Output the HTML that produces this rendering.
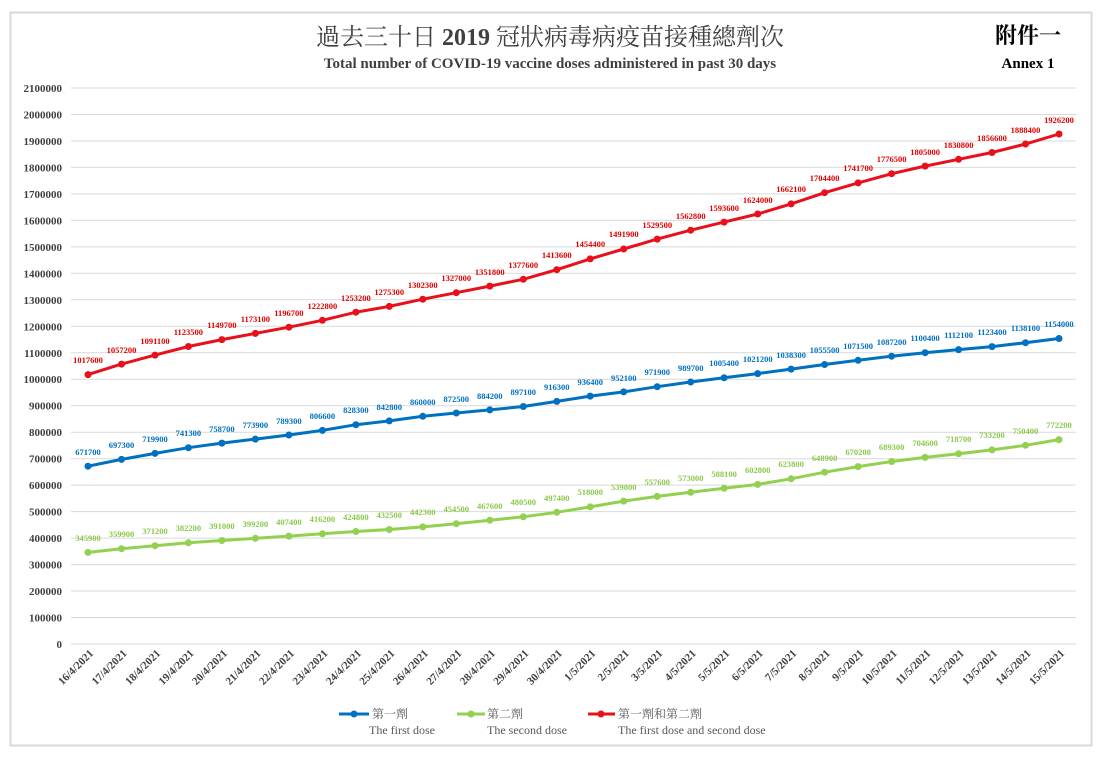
<!DOCTYPE html>
<html><head><meta charset="utf-8"><style>
html,body{margin:0;padding:0;background:#fff;width:1108px;height:758px;overflow:hidden}
svg{display:block}
.yl{font:bold 11px "Liberation Serif",serif;fill:#404040;text-anchor:end}
.xl{font:bold 11px "Liberation Serif",serif;fill:#404040;text-anchor:end}
.r{font:bold 8.5px "Liberation Serif",serif;fill:#e00000;text-anchor:middle}
.b{font:bold 8.5px "Liberation Serif",serif;fill:#0070c0;text-anchor:middle}
.g{font:bold 8.5px "Liberation Serif",serif;fill:#8cc84b;text-anchor:middle}
.lg{font:12px "Liberation Serif","Noto Serif CJK SC",serif;fill:#595959}
</style></head><body>
<svg width="1108" height="758" xmlns="http://www.w3.org/2000/svg">
<rect x="10.5" y="12.5" width="1081" height="733" fill="#fff" stroke="#d9d9d9" stroke-width="2"/>
<text x="550" y="45" text-anchor="middle" style="font:24px 'Liberation Serif','Noto Serif CJK SC',serif;fill:#404040">過去三十日 <tspan style="font-weight:bold">2019</tspan> 冠狀病毒病疫苗接種總劑次</text>
<text x="550" y="68" text-anchor="middle" style="font:bold 15px 'Liberation Serif',serif;fill:#404040">Total number of COVID-19 vaccine doses administered in past 30 days</text>
<text x="1028" y="43" text-anchor="middle" style="font:bold 22px 'Liberation Serif','Noto Serif CJK SC',serif;fill:#000">附件一</text>
<text x="1028" y="68" text-anchor="middle" style="font:bold 15px 'Liberation Serif',serif;fill:#000">Annex 1</text>
<g stroke="#d9d9d9" stroke-width="1">
<line x1="71" x2="1076" y1="88" y2="88"/><line x1="71" x2="1076" y1="114.5" y2="114.5"/><line x1="71" x2="1076" y1="141" y2="141"/><line x1="71" x2="1076" y1="167.4" y2="167.4"/><line x1="71" x2="1076" y1="193.9" y2="193.9"/><line x1="71" x2="1076" y1="220.4" y2="220.4"/><line x1="71" x2="1076" y1="246.9" y2="246.9"/><line x1="71" x2="1076" y1="273.3" y2="273.3"/><line x1="71" x2="1076" y1="299.8" y2="299.8"/><line x1="71" x2="1076" y1="326.3" y2="326.3"/><line x1="71" x2="1076" y1="352.8" y2="352.8"/><line x1="71" x2="1076" y1="379.2" y2="379.2"/><line x1="71" x2="1076" y1="405.7" y2="405.7"/><line x1="71" x2="1076" y1="432.2" y2="432.2"/><line x1="71" x2="1076" y1="458.7" y2="458.7"/><line x1="71" x2="1076" y1="485.1" y2="485.1"/><line x1="71" x2="1076" y1="511.6" y2="511.6"/><line x1="71" x2="1076" y1="538.1" y2="538.1"/><line x1="71" x2="1076" y1="564.6" y2="564.6"/><line x1="71" x2="1076" y1="591" y2="591"/><line x1="71" x2="1076" y1="617.5" y2="617.5"/><line x1="71" x2="1076" y1="644" y2="644"/>
</g>
<g>
<text class="yl" x="62" y="92">2100000</text><text class="yl" x="62" y="118.5">2000000</text><text class="yl" x="62" y="145">1900000</text><text class="yl" x="62" y="171.4">1800000</text><text class="yl" x="62" y="197.9">1700000</text><text class="yl" x="62" y="224.4">1600000</text><text class="yl" x="62" y="250.9">1500000</text><text class="yl" x="62" y="277.3">1400000</text><text class="yl" x="62" y="303.8">1300000</text><text class="yl" x="62" y="330.3">1200000</text><text class="yl" x="62" y="356.8">1100000</text><text class="yl" x="62" y="383.2">1000000</text><text class="yl" x="62" y="409.7">900000</text><text class="yl" x="62" y="436.2">800000</text><text class="yl" x="62" y="462.7">700000</text><text class="yl" x="62" y="489.1">600000</text><text class="yl" x="62" y="515.6">500000</text><text class="yl" x="62" y="542.1">400000</text><text class="yl" x="62" y="568.6">300000</text><text class="yl" x="62" y="595">200000</text><text class="yl" x="62" y="621.5">100000</text><text class="yl" x="62" y="648">0</text>
</g>
<g>
<text class="xl" transform="translate(94,654) rotate(-45)">16/4/2021</text><text class="xl" transform="translate(127.5,654) rotate(-45)">17/4/2021</text><text class="xl" transform="translate(161,654) rotate(-45)">18/4/2021</text><text class="xl" transform="translate(194.4,654) rotate(-45)">19/4/2021</text><text class="xl" transform="translate(227.9,654) rotate(-45)">20/4/2021</text><text class="xl" transform="translate(261.4,654) rotate(-45)">21/4/2021</text><text class="xl" transform="translate(294.9,654) rotate(-45)">22/4/2021</text><text class="xl" transform="translate(328.4,654) rotate(-45)">23/4/2021</text><text class="xl" transform="translate(361.9,654) rotate(-45)">24/4/2021</text><text class="xl" transform="translate(395.3,654) rotate(-45)">25/4/2021</text><text class="xl" transform="translate(428.8,654) rotate(-45)">26/4/2021</text><text class="xl" transform="translate(462.3,654) rotate(-45)">27/4/2021</text><text class="xl" transform="translate(495.8,654) rotate(-45)">28/4/2021</text><text class="xl" transform="translate(529.3,654) rotate(-45)">29/4/2021</text><text class="xl" transform="translate(562.8,654) rotate(-45)">30/4/2021</text><text class="xl" transform="translate(596.2,654) rotate(-45)">1/5/2021</text><text class="xl" transform="translate(629.7,654) rotate(-45)">2/5/2021</text><text class="xl" transform="translate(663.2,654) rotate(-45)">3/5/2021</text><text class="xl" transform="translate(696.7,654) rotate(-45)">4/5/2021</text><text class="xl" transform="translate(730.1,654) rotate(-45)">5/5/2021</text><text class="xl" transform="translate(763.7,654) rotate(-45)">6/5/2021</text><text class="xl" transform="translate(797.1,654) rotate(-45)">7/5/2021</text><text class="xl" transform="translate(830.6,654) rotate(-45)">8/5/2021</text><text class="xl" transform="translate(864.1,654) rotate(-45)">9/5/2021</text><text class="xl" transform="translate(897.6,654) rotate(-45)">10/5/2021</text><text class="xl" transform="translate(931.1,654) rotate(-45)">11/5/2021</text><text class="xl" transform="translate(964.6,654) rotate(-45)">12/5/2021</text><text class="xl" transform="translate(998,654) rotate(-45)">13/5/2021</text><text class="xl" transform="translate(1031.5,654) rotate(-45)">14/5/2021</text><text class="xl" transform="translate(1065,654) rotate(-45)">15/5/2021</text>
</g>
<polyline fill="none" stroke="#92d050" stroke-width="3" points="88,552.4 121.5,548.7 155,545.7 188.4,542.8 221.9,540.5 255.4,538.3 288.9,536.1 322.4,533.8 355.9,531.5 389.3,529.5 422.8,526.9 456.3,523.7 489.8,520.2 523.3,516.8 556.8,512.3 590.2,506.9 623.7,501.1 657.2,496.4 690.7,492.3 724.1,488.3 757.7,484.4 791.1,478.8 824.6,472.2 858.1,466.6 891.6,461.5 925.1,457.4 958.6,453.7 992,449.9 1025.5,445.3 1059,439.6"/>
<polyline fill="none" stroke="#0070c0" stroke-width="3" points="88,466.2 121.5,459.4 155,453.4 188.4,447.7 221.9,443.1 255.4,439.1 288.9,435 322.4,430.4 355.9,424.7 389.3,420.9 422.8,416.3 456.3,413 489.8,409.9 523.3,406.5 556.8,401.4 590.2,396.1 623.7,391.9 657.2,386.7 690.7,382 724.1,377.8 757.7,373.6 791.1,369.1 824.6,364.5 858.1,360.3 891.6,356.2 925.1,352.7 958.6,349.6 992,346.6 1025.5,342.7 1059,338.5"/>
<polyline fill="none" stroke="#e8101b" stroke-width="3" points="88,374.6 121.5,364.1 155,355.1 188.4,346.5 221.9,339.6 255.4,333.4 288.9,327.2 322.4,320.3 355.9,312.2 389.3,306.4 422.8,299.2 456.3,292.7 489.8,286.1 523.3,279.3 556.8,269.7 590.2,258.9 623.7,249 657.2,239.1 690.7,230.2 724.1,222.1 757.7,214 791.1,203.9 824.6,192.7 858.1,182.9 891.6,173.7 925.1,166.1 958.6,159.3 992,152.5 1025.5,144 1059,134"/>
<g fill="#92d050"><circle cx="88" cy="552.4" r="3.5"/><circle cx="121.5" cy="548.7" r="3.5"/><circle cx="155" cy="545.7" r="3.5"/><circle cx="188.4" cy="542.8" r="3.5"/><circle cx="221.9" cy="540.5" r="3.5"/><circle cx="255.4" cy="538.3" r="3.5"/><circle cx="288.9" cy="536.1" r="3.5"/><circle cx="322.4" cy="533.8" r="3.5"/><circle cx="355.9" cy="531.5" r="3.5"/><circle cx="389.3" cy="529.5" r="3.5"/><circle cx="422.8" cy="526.9" r="3.5"/><circle cx="456.3" cy="523.7" r="3.5"/><circle cx="489.8" cy="520.2" r="3.5"/><circle cx="523.3" cy="516.8" r="3.5"/><circle cx="556.8" cy="512.3" r="3.5"/><circle cx="590.2" cy="506.9" r="3.5"/><circle cx="623.7" cy="501.1" r="3.5"/><circle cx="657.2" cy="496.4" r="3.5"/><circle cx="690.7" cy="492.3" r="3.5"/><circle cx="724.1" cy="488.3" r="3.5"/><circle cx="757.7" cy="484.4" r="3.5"/><circle cx="791.1" cy="478.8" r="3.5"/><circle cx="824.6" cy="472.2" r="3.5"/><circle cx="858.1" cy="466.6" r="3.5"/><circle cx="891.6" cy="461.5" r="3.5"/><circle cx="925.1" cy="457.4" r="3.5"/><circle cx="958.6" cy="453.7" r="3.5"/><circle cx="992" cy="449.9" r="3.5"/><circle cx="1025.5" cy="445.3" r="3.5"/><circle cx="1059" cy="439.6" r="3.5"/></g>
<g fill="#0070c0"><circle cx="88" cy="466.2" r="3.5"/><circle cx="121.5" cy="459.4" r="3.5"/><circle cx="155" cy="453.4" r="3.5"/><circle cx="188.4" cy="447.7" r="3.5"/><circle cx="221.9" cy="443.1" r="3.5"/><circle cx="255.4" cy="439.1" r="3.5"/><circle cx="288.9" cy="435" r="3.5"/><circle cx="322.4" cy="430.4" r="3.5"/><circle cx="355.9" cy="424.7" r="3.5"/><circle cx="389.3" cy="420.9" r="3.5"/><circle cx="422.8" cy="416.3" r="3.5"/><circle cx="456.3" cy="413" r="3.5"/><circle cx="489.8" cy="409.9" r="3.5"/><circle cx="523.3" cy="406.5" r="3.5"/><circle cx="556.8" cy="401.4" r="3.5"/><circle cx="590.2" cy="396.1" r="3.5"/><circle cx="623.7" cy="391.9" r="3.5"/><circle cx="657.2" cy="386.7" r="3.5"/><circle cx="690.7" cy="382" r="3.5"/><circle cx="724.1" cy="377.8" r="3.5"/><circle cx="757.7" cy="373.6" r="3.5"/><circle cx="791.1" cy="369.1" r="3.5"/><circle cx="824.6" cy="364.5" r="3.5"/><circle cx="858.1" cy="360.3" r="3.5"/><circle cx="891.6" cy="356.2" r="3.5"/><circle cx="925.1" cy="352.7" r="3.5"/><circle cx="958.6" cy="349.6" r="3.5"/><circle cx="992" cy="346.6" r="3.5"/><circle cx="1025.5" cy="342.7" r="3.5"/><circle cx="1059" cy="338.5" r="3.5"/></g>
<g fill="#e8101b"><circle cx="88" cy="374.6" r="3.5"/><circle cx="121.5" cy="364.1" r="3.5"/><circle cx="155" cy="355.1" r="3.5"/><circle cx="188.4" cy="346.5" r="3.5"/><circle cx="221.9" cy="339.6" r="3.5"/><circle cx="255.4" cy="333.4" r="3.5"/><circle cx="288.9" cy="327.2" r="3.5"/><circle cx="322.4" cy="320.3" r="3.5"/><circle cx="355.9" cy="312.2" r="3.5"/><circle cx="389.3" cy="306.4" r="3.5"/><circle cx="422.8" cy="299.2" r="3.5"/><circle cx="456.3" cy="292.7" r="3.5"/><circle cx="489.8" cy="286.1" r="3.5"/><circle cx="523.3" cy="279.3" r="3.5"/><circle cx="556.8" cy="269.7" r="3.5"/><circle cx="590.2" cy="258.9" r="3.5"/><circle cx="623.7" cy="249" r="3.5"/><circle cx="657.2" cy="239.1" r="3.5"/><circle cx="690.7" cy="230.2" r="3.5"/><circle cx="724.1" cy="222.1" r="3.5"/><circle cx="757.7" cy="214" r="3.5"/><circle cx="791.1" cy="203.9" r="3.5"/><circle cx="824.6" cy="192.7" r="3.5"/><circle cx="858.1" cy="182.9" r="3.5"/><circle cx="891.6" cy="173.7" r="3.5"/><circle cx="925.1" cy="166.1" r="3.5"/><circle cx="958.6" cy="159.3" r="3.5"/><circle cx="992" cy="152.5" r="3.5"/><circle cx="1025.5" cy="144" r="3.5"/><circle cx="1059" cy="134" r="3.5"/></g>
<g>
<text class="g" x="88" y="541">345900</text><text class="g" x="121.5" y="537">359900</text><text class="g" x="155" y="534">371200</text><text class="g" x="188.4" y="531">382200</text><text class="g" x="221.9" y="529">391000</text><text class="g" x="255.4" y="527">399200</text><text class="g" x="288.9" y="525">407400</text><text class="g" x="322.4" y="522">416200</text><text class="g" x="355.9" y="520">424800</text><text class="g" x="389.3" y="518">432500</text><text class="g" x="422.8" y="515">442300</text><text class="g" x="456.3" y="512">454500</text><text class="g" x="489.8" y="509">467600</text><text class="g" x="523.3" y="505">480500</text><text class="g" x="556.8" y="501">497400</text><text class="g" x="590.2" y="495">518000</text><text class="g" x="623.7" y="490">539800</text><text class="g" x="657.2" y="485">557600</text><text class="g" x="690.7" y="481">573000</text><text class="g" x="724.1" y="477">588100</text><text class="g" x="757.7" y="473">602800</text><text class="g" x="791.1" y="467">623800</text><text class="g" x="824.6" y="461">648900</text><text class="g" x="858.1" y="455">670200</text><text class="g" x="891.6" y="450">689300</text><text class="g" x="925.1" y="446">704600</text><text class="g" x="958.6" y="442">718700</text><text class="g" x="992" y="438">733200</text><text class="g" x="1025.5" y="434">750400</text><text class="g" x="1059" y="428">772200</text>
<text class="b" x="88" y="455">671700</text><text class="b" x="121.5" y="448">697300</text><text class="b" x="155" y="442">719900</text><text class="b" x="188.4" y="436">741300</text><text class="b" x="221.9" y="432">758700</text><text class="b" x="255.4" y="428">773900</text><text class="b" x="288.9" y="424">789300</text><text class="b" x="322.4" y="419">806600</text><text class="b" x="355.9" y="413">828300</text><text class="b" x="389.3" y="410">842800</text><text class="b" x="422.8" y="405">860000</text><text class="b" x="456.3" y="402">872500</text><text class="b" x="489.8" y="399">884200</text><text class="b" x="523.3" y="395">897100</text><text class="b" x="556.8" y="390">916300</text><text class="b" x="590.2" y="385">936400</text><text class="b" x="623.7" y="381">952100</text><text class="b" x="657.2" y="375">971900</text><text class="b" x="690.7" y="371">989700</text><text class="b" x="724.1" y="366">1005400</text><text class="b" x="757.7" y="362">1021200</text><text class="b" x="791.1" y="358">1038300</text><text class="b" x="824.6" y="353">1055500</text><text class="b" x="858.1" y="349">1071500</text><text class="b" x="891.6" y="345">1087200</text><text class="b" x="925.1" y="341">1100400</text><text class="b" x="958.6" y="338">1112100</text><text class="b" x="992" y="335">1123400</text><text class="b" x="1025.5" y="331">1138100</text><text class="b" x="1059" y="327">1154000</text>
<text class="r" x="88" y="363">1017600</text><text class="r" x="121.5" y="353">1057200</text><text class="r" x="155" y="344">1091100</text><text class="r" x="188.4" y="335">1123500</text><text class="r" x="221.9" y="328">1149700</text><text class="r" x="255.4" y="322">1173100</text><text class="r" x="288.9" y="316">1196700</text><text class="r" x="322.4" y="309">1222800</text><text class="r" x="355.9" y="301">1253200</text><text class="r" x="389.3" y="295">1275300</text><text class="r" x="422.8" y="288">1302300</text><text class="r" x="456.3" y="281">1327000</text><text class="r" x="489.8" y="275">1351800</text><text class="r" x="523.3" y="268">1377600</text><text class="r" x="556.8" y="258">1413600</text><text class="r" x="590.2" y="247">1454400</text><text class="r" x="623.7" y="237">1491900</text><text class="r" x="657.2" y="228">1529500</text><text class="r" x="690.7" y="219">1562800</text><text class="r" x="724.1" y="211">1593600</text><text class="r" x="757.7" y="203">1624000</text><text class="r" x="791.1" y="192">1662100</text><text class="r" x="824.6" y="181">1704400</text><text class="r" x="858.1" y="171">1741700</text><text class="r" x="891.6" y="162">1776500</text><text class="r" x="925.1" y="155">1805000</text><text class="r" x="958.6" y="148">1830800</text><text class="r" x="992" y="141">1856600</text><text class="r" x="1025.5" y="133">1888400</text><text class="r" x="1059" y="123">1926200</text>
</g>
<g>
<line x1="339" x2="369" y1="714" y2="714" stroke="#0070c0" stroke-width="3"/><circle cx="354" cy="714" r="3.5" fill="#0070c0"/>
<text class="lg" x="372" y="718">第一劑</text><text class="lg" x="369" y="734">The first dose</text>
<line x1="457" x2="485" y1="714" y2="714" stroke="#92d050" stroke-width="3"/><circle cx="471" cy="714" r="3.5" fill="#92d050"/>
<text class="lg" x="487" y="718">第二劑</text><text class="lg" x="487" y="734">The second dose</text>
<line x1="588" x2="615" y1="714" y2="714" stroke="#e8101b" stroke-width="3"/><circle cx="601" cy="714" r="3.5" fill="#e8101b"/>
<text class="lg" x="618" y="718">第一劑和第二劑</text><text class="lg" x="618" y="734">The first dose and second dose</text>
</g>
</svg>
</body></html>
